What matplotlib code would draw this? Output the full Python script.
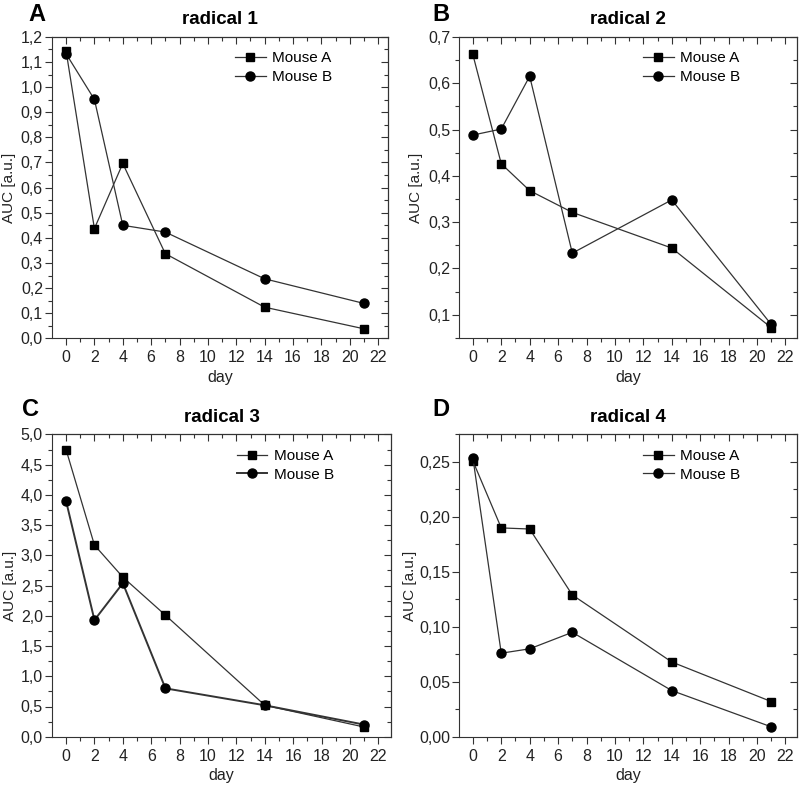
import matplotlib
matplotlib.use("Agg")
import matplotlib.pyplot as plt
from matplotlib.ticker import MultipleLocator, FuncFormatter, NullFormatter

plt.rcParams["font.family"] = ["Liberation Sans", "DejaVu Sans"]

days = [0, 2, 4, 7, 14, 21]

# AUC values
r1_a = [1.145, 0.437, 0.696, 0.337, 0.124, 0.038]
r1_b = [1.133, 0.951, 0.450, 0.423, 0.237, 0.139]
r2_a = [0.662, 0.426, 0.368, 0.321, 0.244, 0.072]
r2_b = [0.488, 0.501, 0.615, 0.233, 0.348, 0.079]
r3_a = [4.75, 3.17, 2.64, 2.01, 0.52, 0.16]
r3_b = [3.90, 1.93, 2.54, 0.80, 0.52, 0.20]
r4_a = [0.251, 0.190, 0.189, 0.129, 0.068, 0.032]
r4_b = [0.254, 0.076, 0.080, 0.095, 0.042, 0.009]

panels = [
    # letter, title, A, B, ylim, major, decimals, axes rect, xlim, letter pos, ylabel x, lw B
    ("A", "radical 1", r1_a, r1_b, (0, 1.2), 0.1, 1,
     [0.065, 0.569, 0.42, 0.384], (-0.99, 22.7), (0.035, 0.973), -0.108, 0.9),
    ("B", "radical 2", r2_a, r2_b, (0.049, 0.7), 0.1, 1,
     [0.574, 0.569, 0.422, 0.384], (-0.96, 22.8), (0.54, 0.973), -0.107, 0.9),
    ("C", "radical 3", r3_a, r3_b, (0, 5.0), 0.5, 1,
     [0.065, 0.0615, 0.424, 0.385], (-0.99, 22.9), (0.028, 0.4704), -0.102, 1.4),
    ("D", "radical 4", r4_a, r4_b, (0, 0.275), 0.05, 2,
     [0.574, 0.0615, 0.422, 0.385], (-0.96, 22.8), (0.54, 0.4704), -0.124, 0.9),
]

fig = plt.figure(figsize=(8, 7.85), dpi=100)
ident = (lambda v: v, lambda v: v)
ink = "#333333"

for letter, title, ya, yb, ylim, major, dec, rect, xlim, lpos, ylx, lwb in panels:
    ax = fig.add_axes(rect)
    ax.plot(days, ya, "-s", color=ink, lw=0.9, ms=6,
            mfc="black", mec="black", label="Mouse A")
    ax.plot(days, yb, "-o", color=ink, lw=lwb, ms=6.5,
            mfc="black", mec="black", label="Mouse B")
    ax.set_xlim(*xlim)
    ax.set_ylim(*ylim)
    ax.xaxis.set_major_locator(MultipleLocator(2))
    ax.xaxis.set_minor_locator(MultipleLocator(1))
    ax.yaxis.set_major_locator(MultipleLocator(major))
    ax.yaxis.set_minor_locator(MultipleLocator(major / 2))
    ax.yaxis.set_major_formatter(
        FuncFormatter(lambda v, p, d=dec: f"{v:.{d}f}".replace(".", ",")))
    ax.tick_params(axis="both", which="both", labelsize=11.5, width=0.8,
                   direction="out", colors=ink, labelcolor="#222222")
    ax.tick_params(axis="both", which="major", length=5)
    ax.tick_params(axis="both", which="minor", length=3)
    ax.tick_params(axis="y", which="major", pad=1.5)

    # top and right ticks point inward
    top = ax.secondary_xaxis("top", functions=ident)
    top.xaxis.set_major_locator(MultipleLocator(2))
    top.xaxis.set_minor_locator(MultipleLocator(1))
    top.xaxis.set_major_formatter(NullFormatter())
    right = ax.secondary_yaxis("right", functions=ident)
    right.yaxis.set_major_locator(MultipleLocator(major))
    right.yaxis.set_minor_locator(MultipleLocator(major / 2))
    right.yaxis.set_major_formatter(NullFormatter())
    for sec in (top, right):
        sec.tick_params(which="both", direction="in", width=0.8, colors=ink)
        sec.tick_params(which="major", length=5)
        sec.tick_params(which="minor", length=3)

    for spine in ax.spines.values():
        spine.set_linewidth(0.8)
        spine.set_color(ink)
    ax.set_xlabel("day", fontsize=11.5, color="#222222")
    ax.xaxis.set_label_coords(0.5, -0.105)
    ax.set_ylabel("AUC [a.u.]", fontsize=11, color="#222222")
    ax.yaxis.set_label_coords(ylx, 0.5)
    ax.set_title(title, fontsize=13.5, fontweight="bold", pad=9)
    ax.legend(loc="upper left", bbox_to_anchor=(0.545, 0.952), frameon=False,
              fontsize=11, handlelength=2.0, handletextpad=0.4,
              labelspacing=0.3, borderpad=0, borderaxespad=0)
    fig.text(lpos[0], lpos[1], letter, fontsize=17, fontweight="bold",
             va="baseline", ha="left")

fig.savefig("out.png", dpi=100)
